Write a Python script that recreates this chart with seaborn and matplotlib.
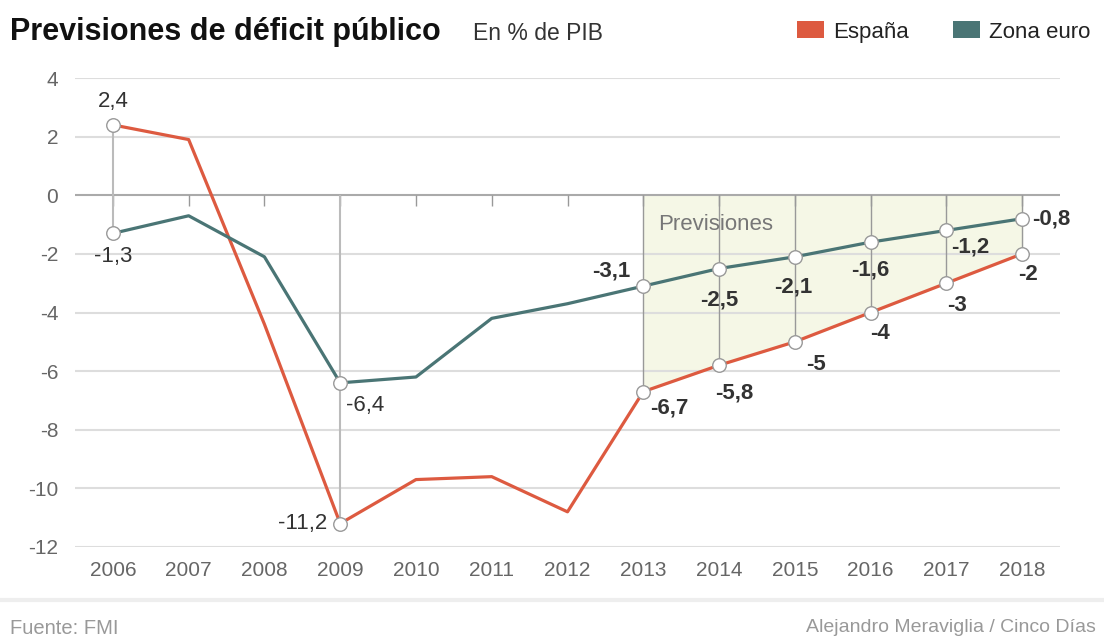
import warnings
import numpy as np
import pandas as pd
import matplotlib
matplotlib.use("Agg")
import matplotlib.pyplot as plt
import seaborn as sns
from matplotlib.lines import Line2D
from matplotlib.patches import Patch
warnings.filterwarnings("ignore")

years = [2006, 2007, 2008, 2009, 2010, 2011, 2012, 2013, 2014, 2015, 2016, 2017, 2018]
espana = [2.4, 1.9, -4.4, -11.2, -9.7, -9.6, -10.8, -6.7, -5.8, -5.0, -4.0, -3.0, -2.0]
zona_euro = [-1.3, -0.7, -2.1, -6.4, -6.2, -4.2, -3.7, -3.1, -2.5, -2.1, -1.6, -1.2, -0.8]
forecast_years = [2013, 2014, 2015, 2016, 2017, 2018]
marked_years = [2006, 2009, 2013, 2014, 2015, 2016, 2017, 2018]
y_ticks = [4, 2, 0, -2, -4, -6, -8, -10, -12]

RED = "#dd5a40"
TEAL = "#4a7575"

# label offsets (points) and alignment per point: (dx, dy, ha, bold)
esp_labels = {
    2006: (0, 17, "center", False), 2009: (-9, 0, "right", False),
    2013: (5, -12, "left", True), 2014: (11, -20, "center", True),
    2015: (15, -16, "center", True), 2016: (7, -15, "center", True),
    2017: (8, -16, "center", True), 2018: (4, -15, "center", True),
}
eur_labels = {
    2006: (0, -17, "center", False), 2009: (4, -16, "left", False),
    2013: (-9, 11, "right", True), 2014: (0, -23, "center", True),
    2015: (-1, -22, "center", True), 2016: (0, -20, "center", True),
    2017: (17, -12, "center", True), 2018: (7, 0, "left", True),
}

sns.set_theme(style="white")
plt.rcParams["font.family"] = ["Liberation Sans", "DejaVu Sans"]

df = pd.DataFrame({
    "year": years * 2,
    "valor": espana + zona_euro,
    "serie": ["España"] * len(years) + ["Zona euro"] * len(years),
})
esp = pd.Series(espana, index=years)
eur = pd.Series(zona_euro, index=years)

fig = plt.figure(figsize=(11.04, 6.37), dpi=100)
ax = fig.add_axes([75 / 1104, 90 / 637, 985 / 1104, 469 / 637])

# forecast shading and guide lines
ax.fill_between(forecast_years, 0, esp[forecast_years].values, color="#f5f7e6", zorder=0)
ax.vlines(forecast_years, 0, esp[forecast_years].values, color="#999999", lw=1.0, zorder=1)
ax.vlines([2006], esp[2006], eur[2006], color="#bbbbbb", lw=1.5, zorder=1)
ax.vlines([2009], 0, esp[2009], color="#bbbbbb", lw=1.5, zorder=1)

for t in y_ticks:
    ax.axhline(t, color="#aaaaaa" if t == 0 else "#dddddd", lw=1.5, zorder=0.5)
ax.vlines(years, -0.35, 0, color="#999999", lw=1.0, zorder=0.6)

sns.lineplot(data=df, x="year", y="valor", hue="serie",
             palette={"España": RED, "Zona euro": TEAL},
             lw=2.3, ax=ax, legend=False, zorder=3)

ax.scatter(marked_years, esp[marked_years].values, s=95, facecolor="white",
           edgecolor="#999999", lw=1.0, zorder=4, clip_on=False)
ax.scatter(marked_years, eur[marked_years].values, s=95, facecolor="white",
           edgecolor="#999999", lw=1.0, zorder=4, clip_on=False)

def fmt(v):
    return f"{v:g}".replace(".", ",")

for series, labels in ((esp, esp_labels), (eur, eur_labels)):
    for yr, (dx, dy, ha, bold) in labels.items():
        ax.annotate(fmt(series[yr]), (yr, series[yr]), xytext=(dx, dy),
                    textcoords="offset points", ha=ha, va="center",
                    fontsize=16, color="#333333",
                    fontweight="bold" if bold else "normal", zorder=5)

ax.text(2013.2, -1.0, "Previsiones", fontsize=16, color="#777777", va="center")

ax.set_xlim(2005.5, 2018.5)
ax.set_ylim(-12, 4)
ax.set_xticks(years)
ax.set_xticklabels([str(y) for y in years])
ax.set_yticks(y_ticks)
ax.set_yticklabels([str(t) for t in y_ticks])
ax.tick_params(axis="both", length=0, labelsize=15, labelcolor="#666666")
ax.tick_params(axis="y", pad=12)
ax.tick_params(axis="x", pad=10)
ax.set_xlabel("")
ax.set_ylabel("")
for sp in ax.spines.values():
    sp.set_visible(False)

fig.text(10 / 1104, 1 - 32 / 637, "Previsiones de déficit público", fontsize=22,
         fontweight="bold", color="#111111", va="center", ha="left")
fig.text(473 / 1104, 1 - 33 / 637, "En % de PIB", fontsize=16.5, color="#333333",
         va="center", ha="left")

handles = [Patch(facecolor=RED, edgecolor="none", label="España"),
           Patch(facecolor=TEAL, edgecolor="none", label="Zona euro")]
fig.legend(handles=handles, loc="center right", bbox_to_anchor=(1090 / 1104, 1 - 32 / 637),
           ncol=2, frameon=False, fontsize=16, handlelength=1.2, handleheight=0.8,
           handletextpad=0.4, columnspacing=2.0, borderpad=0, borderaxespad=0,
           labelcolor="#222222")

fig.add_artist(Line2D([0, 1], [1 - 600 / 637] * 2, transform=fig.transFigure,
                      color="#eeeeee", lw=3))
fig.text(10 / 1104, 1 - 628 / 637, "Fuente: FMI", fontsize=14.5, color="#999999",
         va="center", ha="left")
fig.text(806 / 1104, 1 - 628 / 637, "Alejandro Meraviglia / Cinco Días", fontsize=14,
         color="#999999", va="center", ha="left")

fig.savefig("out.png", dpi=100)
plt.close(fig)
